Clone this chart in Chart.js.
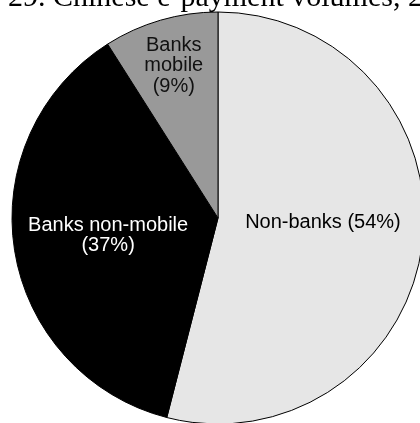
<!DOCTYPE html>
<html lang="en">
<head>
  <meta charset="UTF-8">
  <title>Chinese e-payment volumes</title>
  <script src="https://cdn.jsdelivr.net/npm/chart.js"></script>
  <style>
    html, body {
      margin: 0;
      padding: 0;
      background: #fff;
      overflow: hidden;
    }

    #wrap {
      position: relative;
      width: 420px;
      height: 423px;
      overflow: hidden;
    }

    #title {
      position: absolute;
      left: 8px;
      top: -19px;
      font-family: "Liberation Serif", "Times New Roman", serif;
      font-size: 30px;
      line-height: 30px;
      white-space: nowrap;
      color: #000;
      z-index: 2;
    }

    #pie {
      position: absolute;
      left: 0;
      top: 0;
    }
  </style>
</head>
<body>

<div id="wrap">
  <div id="title">29. Chinese e-payment volumes, 2016</div>
  <canvas id="pie" width="436" height="436"></canvas>
</div>

<script>
  const categories = ['Non-banks', 'Banks non-mobile', 'Banks mobile'];
  const shares = [54, 37, 9];
  const labelLines = [
    [`${categories[0]} (${shares[0]}%)`],
    ['Banks non-mobile', `(${shares[1]}%)`],
    ['Banks', 'mobile', `(${shares[2]}%)`]
  ];

  const sliceColors = ['#e6e6e6', '#000000', '#999999'];
  const textColors = ['#000000', '#ffffff', '#111111'];
  const labelRadius = [0.51, 0.54, 0.77];
  const labelTurn = [-4.5, 0, 0]; // degrees, nudges label off the slice middle

  // draws the text inside each slice
  const sliceLabels = {
    id: 'sliceLabels',
    afterDatasetsDraw(chart) {
      const ctx = chart.ctx;
      const meta = chart.getDatasetMeta(0);
      const lineH = 20.5;
      ctx.save();
      ctx.font = '20px "Liberation Sans", Arial, sans-serif';
      ctx.textAlign = 'center';
      ctx.textBaseline = 'middle';
      meta.data.forEach((arc, i) => {
        const p = arc.getProps(['x', 'y', 'startAngle', 'endAngle', 'outerRadius'], true);
        const mid = (p.startAngle + p.endAngle) / 2 + labelTurn[i] * Math.PI / 180;
        const r = p.outerRadius * labelRadius[i];
        const cx = p.x + Math.cos(mid) * r;
        const cy = p.y + Math.sin(mid) * r;
        const lines = labelLines[i];
        ctx.fillStyle = textColors[i];
        lines.forEach((line, j) => {
          ctx.fillText(line, cx, cy + (j - (lines.length - 1) / 2) * lineH);
        });
      });
      ctx.restore();
    }
  };

  new Chart(document.getElementById('pie'), {
    type: 'pie',
    data: {
      labels: categories,
      datasets: [{
        data: shares,
        backgroundColor: sliceColors,
        borderColor: '#000',
        borderWidth: 1,
        radius: 206
      }]
    },
    options: {
      responsive: false,
      animation: false,
      layout: { padding: 0 },
      plugins: {
        legend: { display: false },
        tooltip: { enabled: false }
      }
    },
    plugins: [sliceLabels]
  });
</script>

</body>
</html>
